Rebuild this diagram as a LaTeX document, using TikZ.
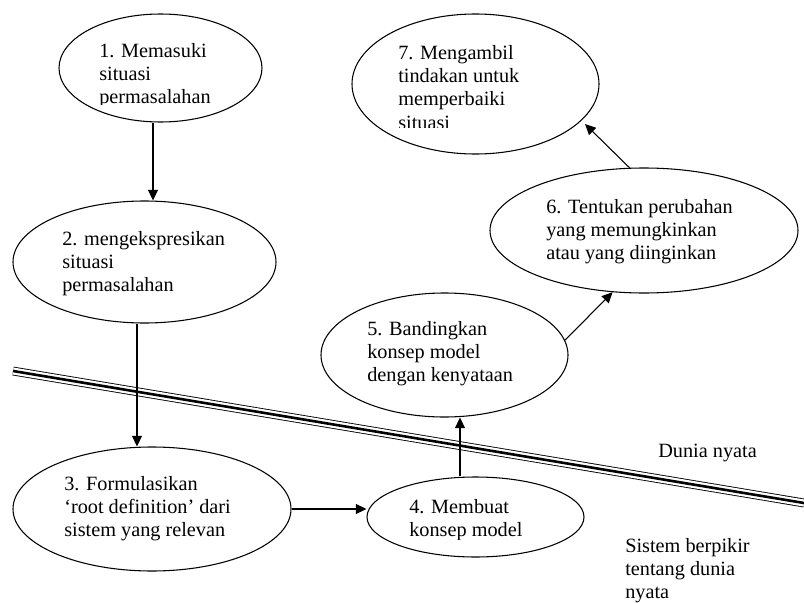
\documentclass[tikz,border=0pt]{standalone}
\usepackage{fontspec}
\setmainfont{Liberation Serif}
\usetikzlibrary{shapes.geometric,arrows.meta,calc}
\begin{document}
\begin{tikzpicture}[x=0.75pt,y=-0.75pt,
  ell/.style={draw,ellipse,line width=0.8pt,inner sep=0pt},
  lbl/.style={anchor=base west,inner sep=0pt,font=\fontsize{15.2}{17.5}\selectfont},
  arr/.style={line width=0.8pt,-{Triangle[length=8pt,width=7.5pt]}}]
\useasboundingbox (0,0) rectangle (804,603);

% ellipses
\node[ell,minimum width=152.25pt,minimum height=81pt] (e1) at (160.5,68) {};
\node[ell,minimum width=197.25pt,minimum height=91.5pt] (e2) at (144.5,262) {};
\node[ell,minimum width=208.5pt,minimum height=93pt] (e3) at (152,509) {};
\node[ell,minimum width=162.75pt,minimum height=60pt] (e4) at (475.5,517) {};
\node[ell,minimum width=185.25pt,minimum height=93pt] (e5) at (444.5,355) {};
\node[ell,minimum width=231pt,minimum height=93.75pt] (e6) at (644,230.5) {};
\node[ell,minimum width=185.25pt,minimum height=105pt] (e7) at (475.5,84) {};

% texts
\begin{scope}
\clip (60,20) rectangle (260,104);
\node[lbl] (t1) at (99,57) {\vtop{\hbox{1. Memasuki}\hbox{situasi}\hbox{permasalahan}}};
\end{scope}
\node[lbl] (t2) at (62,245) {\vtop{\hbox{2. mengekspresikan}\hbox{situasi}\hbox{permasalahan}}};
\node[lbl] (t3) at (64,490) {\vtop{\hbox{3. Formulasikan}\hbox{‘root definition’ dari}\hbox{sistem yang relevan}}};
\begin{scope}
\clip (370,480) rectangle (580,539);
\node[lbl] (t4) at (409,513) {\vtop{\hbox{4. Membuat}\hbox{konsep model}}};
\end{scope}
\node[lbl] (t5) at (367,335) {\vtop{\hbox{5. Bandingkan}\hbox{konsep model}\hbox{dengan kenyataan}}};
\node[lbl] (t6) at (546,213) {\vtop{\hbox{6. Tentukan perubahan}\hbox{yang memungkinkan}\hbox{atau yang diinginkan}}};
\begin{scope}
\clip (360,20) rectangle (595,127);
\node[lbl] (t7) at (398,59) {\vtop{\hbox{7. Mengambil}\hbox{tindakan untuk}\hbox{memperbaiki}\hbox{situasi}}};
\end{scope}
\node[lbl] (dn) at (658,457) {Dunia nyata};
\node[lbl] (sb) at (625,552) {\vtop{\hbox{Sistem berpikir}\hbox{tentang dunia}\hbox{nyata}}};

% boundary line
\coordinate (L1) at (13,371);
\coordinate (L2) at (804,503);
\draw[line width=6.6pt] (L1) -- (L2);
\draw[white,line width=5.3pt] (L1) -- (L2);
\draw[line width=1.95pt] (L1) -- (L2);

% connectors
\coordinate (a1) at ($(e1.south)+(-7.5,0)$);
\draw[arr] (a1) -- (a1 |- e2.north);
\coordinate (a2) at ($(e2.south)+(-7.5,0)$);
\draw[arr] (a2) -- (a2 |- e3.north);
\draw[arr] (e3.east) -- (e3.east -| e4.west);
\coordinate (a4) at ($(e4.north)+(-15.5,0)$);
\draw[arr] (a4) -- (a4 |- e5.south);
\draw[arr] (e5.7) -- (e6.243);
\coordinate (c7) at ($(e7.center)+(109.5,40)$);
\draw[arr] (e6.103) -- (c7);
\end{tikzpicture}
\end{document}
